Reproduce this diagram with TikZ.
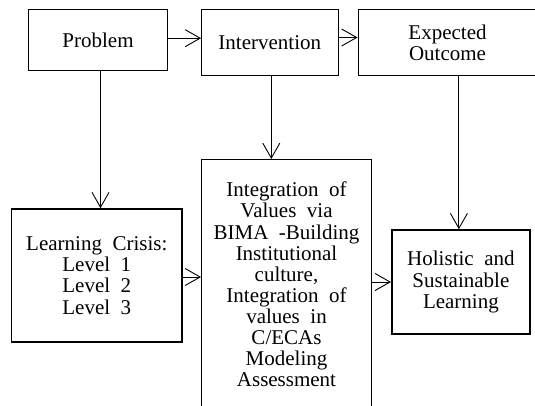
\documentclass[tikz,border=0pt]{standalone}
\usepackage{fontspec}
\setmainfont{Liberation Serif}
\usetikzlibrary{shapes,arrows.meta,positioning,calc}
\newcommand\boxfont{\fontsize{21}{21.1}\selectfont\spaceskip 0.5em\relax}

\begin{document}
\begin{tikzpicture}[x=1pt,y=-1pt,>={Straight Barb[length=15pt,width=17pt]},
  box/.style={draw,line width=0.9pt,align=center,inner sep=0pt,font=\boxfont},
  thickbox/.style={box,line width=1.5pt},
  link/.style={draw,line width=0.9pt,->}]
  \useasboundingbox (0,0) rectangle (535,406);
  \node [box,minimum width=138.6pt,minimum height=61.5pt] (problem) at (98,40.2) {Problem};
  \node [box,minimum width=136.5pt,minimum height=66pt] (intervention) at (269.8,42.5) {Intervention};
  \node [box,minimum width=179pt,minimum height=66pt] (outcome) at (447.5,42.5) {Expected\\Outcome};
  \node [thickbox,minimum width=170.5pt,minimum height=133pt] (crisis) at (96.8,275.5)
    {Learning Crisis:\\Level 1\\Level 2\\Level 3};
  \node [box,minimum width=170pt,minimum height=250pt] (values) at (286.5,284.5)
    {Integration of\\Values via\\BIMA -Building\\Institutional\\culture,\\Integration of\\values in\\C/ECAs\\Modeling\\Assessment};
  \node [thickbox,minimum width=138.3pt,minimum height=104pt] (holistic) at (460.9,282)
    {Holistic and\\Sustainable\\Learning};
  % arrows
  \draw [link] ([yshift=2pt]problem.east) -- ([yshift=2pt]problem.east -| intervention.west);
  \draw [link] ([yshift=5pt]intervention.east) -- ([yshift=5pt]intervention.east -| outcome.west);
  \draw [link] ([xshift=2.5pt]problem.south) -- ([xshift=2.5pt]problem.south |- crisis.north);
  \draw [link] ([xshift=1.5pt]intervention.south) -- ([xshift=1.5pt]intervention.south |- values.north);
  \draw [link] ([xshift=-2pt]outcome.south -| holistic.north) -- ([xshift=-2pt]holistic.north);
  \draw [link] ([yshift=-1.5pt]crisis.east) -- ([yshift=-1.5pt]crisis.east -| values.west);
  \draw [link] (values.east |- holistic.west) -- (holistic.west);
\end{tikzpicture}
\end{document}
